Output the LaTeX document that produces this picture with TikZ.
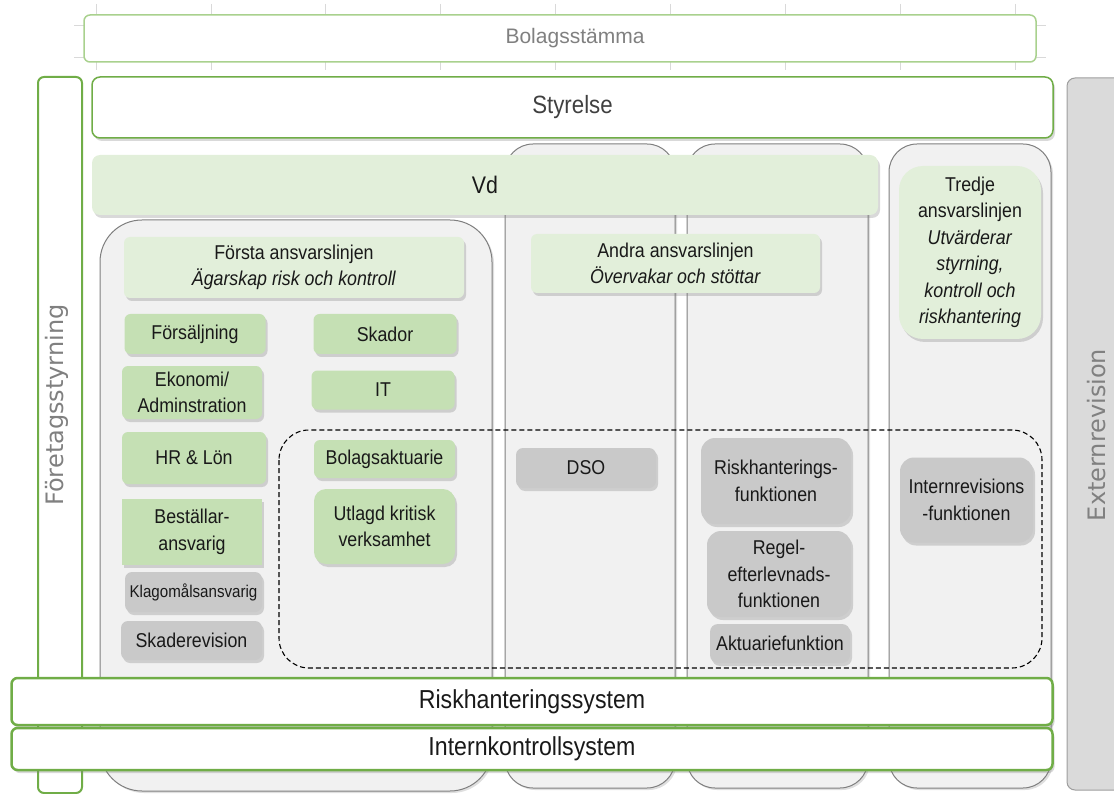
\documentclass[tikz,border=0pt]{standalone}
\usepackage{fontspec}
\setmainfont{Liberation Sans}
\newfontfamily\narrowfont[FakeStretch=0.89]{Liberation Sans}
\newfontfamily\widefont{DejaVu Sans}
\usetikzlibrary{shadows}

\definecolor{linegreen}{HTML}{70AD47}
\definecolor{palegreen}{HTML}{A9D18E}
\definecolor{headgreen}{HTML}{E2EFDA}
\definecolor{unitgreen}{HTML}{C5E0B4}
\definecolor{unitgray}{HTML}{C9C9C9}
\definecolor{colfill}{HTML}{F1F1F1}
\definecolor{colline}{HTML}{7F7F7F}
\definecolor{extfill}{HTML}{DADADA}
\definecolor{labelgray}{HTML}{808080}

\tikzset{
  softshadow/.style={drop shadow={shadow xshift=2pt, shadow yshift=-3pt, opacity=0.3}},
  unit/.style={rounded corners=6pt, fill=unitgreen, softshadow, align=center, inner sep=0pt,
    text=black!90, font=\narrowfont\fontsize{20}{26.5}\selectfont},
  grayunit/.style={unit, fill=unitgray, rounded corners=9pt},
  linehead/.style={unit, fill=headgreen},
  sysbar/.style={draw=linegreen, line width=2.5pt, fill=white, rounded corners=6pt, softshadow,
    inner sep=0pt, text=black!90, font=\narrowfont\fontsize{26}{30}\selectfont},
  column/.style={draw=colline, fill=colfill, line width=1pt,
    drop shadow={shadow xshift=2pt, shadow yshift=-2pt, opacity=0.25}},
  sidetext/.style={text=labelgray, font=\widefont\fontsize{24}{28}\selectfont},
  gridtick/.style={draw=black!15, line width=0.8pt},
}

\begin{document}
\begin{tikzpicture}[x=1pt, y=-1pt]
\useasboundingbox (0,0) rectangle (1114,794);

% faint ticks round the top box
\foreach \gx in {0,...,8} {
  \draw[gridtick] ({96+114.9*\gx},4) -- ++(0,11);
  \draw[gridtick] ({96+114.9*\gx},62) -- ++(0,8);
}
\draw[gridtick] (74,25) -- (84,25);
\draw[gridtick] (74,57) -- (84,57);
\draw[gridtick] (1036,25) -- (1046,25);
\draw[gridtick] (1036,57) -- (1046,57);

% owners and board
\node[draw=palegreen, line width=1.5pt, fill=white, rounded corners=6pt, inner sep=0pt,
  minimum width=952pt, minimum height=47pt, text=labelgray, font=\fontsize{21}{25}\selectfont]
  (stamma) at (560,38.5) {\hspace*{30pt}Bolagsstämma};

\node[draw=linegreen, line width=2pt, fill=white, rounded corners=6pt, inner sep=0pt,
  minimum width=44pt, minimum height=716pt] (styrbox) at (60,435) {};
\node[sidetext, rotate=90] (styrtext) at (57,405) {Företagsstyrning};

\node[draw=black!38, line width=1pt, fill=extfill, rounded corners=8pt, inner sep=0pt,
  minimum width=60pt, minimum height=712pt] (extbox) at (1097,434) {};
\node[sidetext, rotate=90] (exttext) at (1097,435) {Externrevision};

% the three lines of defence
\draw[column, rounded corners=28pt] (505,144) rectangle (675,788);
\draw[column, rounded corners=28pt] (687,144) rectangle (868,788);
\draw[column, rounded corners=28pt] (889,144) rectangle (1051,788);
\draw[column, rounded corners=42pt] (100,220) rectangle (492,791);

\node[draw=linegreen, line width=1.5pt, fill=white, rounded corners=8pt, softshadow, inner sep=0pt,
  minimum width=961pt, minimum height=61pt, text=black!75, font=\narrowfont\fontsize{25}{30}\selectfont]
  (styrelse) at (572.5,107.5) {Styrelse};

\node[fill=headgreen, rounded corners=8pt, softshadow, inner sep=0pt,
  minimum width=786pt, minimum height=60pt, text=black!90, font=\narrowfont\fontsize{24}{28}\selectfont]
  (vd) at (485,185) {Vd};

\draw[dashed, dash pattern=on 5pt off 3pt, line width=1.1pt, rounded corners=30pt]
  (279,430) rectangle (1042,668);

% first line
\node[linehead, minimum width=340pt, minimum height=61pt] (forsta) at (294,267.5)
  {Första ansvarslinjen\\\textit{Ägarskap risk och kontroll}};
\node[unit, minimum width=141pt, minimum height=40pt] (forsalj) at (195,334) {Försäljning};
\node[unit, minimum width=143pt, minimum height=40pt] (skador) at (385,334) {Skador};
\node[unit, minimum width=140pt, minimum height=53pt] (ekonomi) at (192,392.5) {Ekonomi/\\Adminstration};
\node[unit, minimum width=143pt, minimum height=39pt] (it) at (383,390) {IT};
\node[unit, minimum width=144pt, minimum height=52pt] (hrlon) at (194,458) {HR \& Lön};
\node[unit, minimum width=141pt, minimum height=38pt] (bolakt) at (384.5,459) {Bolagsaktuarie};
\node[unit, rounded corners=0pt, minimum width=140pt, minimum height=66pt] (bestall) at (192,532)
  {Beställar-\\ansvarig};
\node[unit, rounded corners=12pt, minimum width=141pt, minimum height=75pt] (utlagd) at (384.5,526.5)
  {Utlagd kritisk\\verksamhet};
\node[grayunit, rounded corners=7pt, minimum width=137pt, minimum height=40pt,
  font=\narrowfont\fontsize{17}{20}\selectfont] (klago) at (193.5,592) {Klagomålsansvarig};
\node[grayunit, rounded corners=7pt, minimum width=141pt, minimum height=39pt] (skrev) at (191.5,640.5)
  {Skaderevision};

% second line
\node[linehead, minimum width=289pt, minimum height=59pt] (andra) at (675.5,263.5)
  {Andra ansvarslinjen\\\textit{Övervakar och stöttar}};
\node[grayunit, rounded corners=7pt, minimum width=140pt, minimum height=40pt] (dso) at (586,468) {DSO};
\node[grayunit, rounded corners=14pt, minimum width=150pt, minimum height=86pt] (riskfunk) at (776,481)
  {Riskhanterings-\\funktionen};
\node[grayunit, rounded corners=14pt, minimum width=144pt, minimum height=86pt] (regel) at (779,574)
  {Regel-\\efterlevnads-\\funktionen};
\node[grayunit, rounded corners=8pt, minimum width=140pt, minimum height=39pt] (aktfunk) at (780,643.5)
  {Aktuariefunktion};

% third line
\node[linehead, rounded corners=24pt, minimum width=142pt, minimum height=173pt] (tredje) at (970,252.5)
  {Tredje\\ansvarslinjen\\\textit{Utvärderar}\\\textit{styrning,}\\\textit{kontroll och}\\\textit{riskhantering}};
\node[grayunit, rounded corners=14pt, minimum width=133pt, minimum height=85pt] (intrev) at (966.5,500)
  {Internrevisions\\-funktionen};

% systems across the bottom
\node[sysbar, minimum width=1041pt, minimum height=47pt] (risksys) at (532,701.5) {Riskhanteringssystem};
\node[sysbar, minimum width=1041pt, minimum height=42pt] (intsys) at (532,749) {Internkontrollsystem};
\end{tikzpicture}
\end{document}
